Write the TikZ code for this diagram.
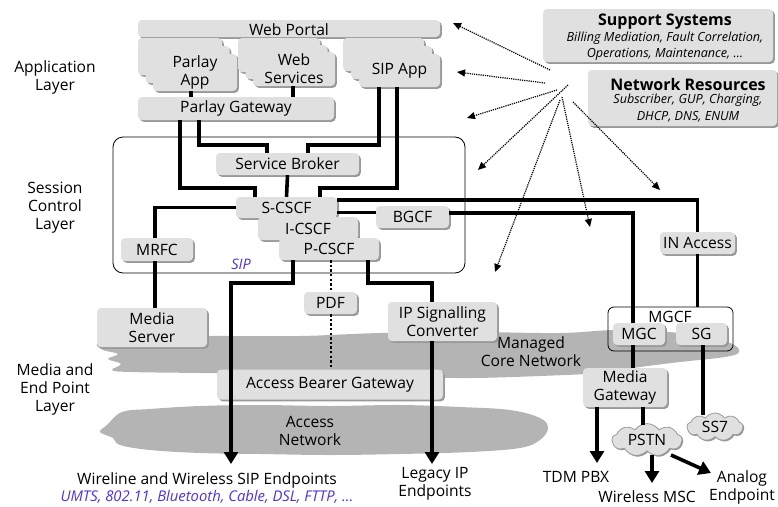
\documentclass[tikz,border=0pt]{standalone}
\usepackage{fontspec}
\setmainfont{Open Sans}
\usetikzlibrary{arrows.meta,shadows,shapes.symbols,calc}
\definecolor{boxfill}{HTML}{E0E0E0}
\definecolor{shadowc}{HTML}{999999}
\definecolor{cloudc}{HTML}{B4B4B4}
\definecolor{sipblue}{HTML}{5030E0}
\newcommand\lblfont{\fontsize{15.6}{18}\selectfont}
\newcommand\smallitfont{\fontsize{12.6}{16.5}\selectfont\itshape}
\begin{document}
\begin{tikzpicture}[x=1pt,y=-1pt,
  box/.style={rounded corners=4pt, fill=boxfill,
    drop shadow={shadow xshift=1.8pt, shadow yshift=-1.8pt, fill=shadowc, opacity=1},
    inner sep=0pt, align=center, font=\lblfont},
  lbl/.style={align=center, font=\lblfont, inner sep=0pt},
  conn/.style={line width=3.6pt},
  conna/.style={conn, -{Triangle[length=12pt,width=14pt]}},
  dotconn/.style={line width=2.6pt, dash pattern=on 2.4pt off 2.2pt},
  dotarr/.style={line width=1.2pt, dash pattern=on 1.2pt off 1pt, black, -{Triangle[length=8pt,width=7pt]}},
  smallcloud/.style={cloud, cloud puffs=9, cloud puff arc=110, aspect=2.2, fill=boxfill, draw=black!40, line width=0.8pt, inner sep=0pt, font=\lblfont,
    drop shadow={shadow xshift=1.2pt, shadow yshift=-1.2pt, fill=shadowc, opacity=1}}
]
\useasboundingbox (0,0) rectangle (778,506);

% ---------- clouds ----------
\fill[cloudc] plot[smooth cycle, tension=0.6] coordinates {
 (97,344) (112,338) (160,337) (210,336) (300,336) (380,333) (470,332) (560,333) (620,330)
 (690,334) (730,343) (739,352) (725,357) (680,362) (640,367) (600,373) (540,376) (470,378)
 (400,377) (330,376) (260,374) (200,373) (130,372) (112,370) (121,364) (108,359) (118,354) (103,350)};
\fill[cloudc] plot[smooth cycle, tension=0.6] coordinates {
 (107,425) (122,412) (150,409) (200,406) (260,405) (330,406) (400,405) (460,407) (510,410)
 (540,418) (548,428) (540,440) (520,448) (470,452) (400,454) (330,455) (260,454) (200,453)
 (150,450) (120,445) (113,438) (100,432)};
\node[lbl] (mcn) at (531,351.5) {Managed\\Core Network};
\node[lbl] (accn) at (310,431) {Access\\Network};

% ---------- left layer labels ----------
\node[lbl] (lapp) at (55,77) {Application\\Layer};
\node[lbl] (lses) at (55,208) {Session\\Control\\Layer};
\node[lbl] (lmed) at (55,389) {Media and\\End Point\\Layer};

% ---------- session box ----------
\node[draw, line width=0.8pt, rounded corners=10pt, minimum width=352, minimum height=136, inner sep=0pt] (sess) at (289,205) {};
\node[font=\fontsize{14.5}{15}\selectfont\itshape, text=sipblue, inner sep=0pt] (siplbl) at (241,264) {SIP};

% ---------- application layer ----------
\node[box, minimum width=302, minimum height=17] (wp) at (289,28.5) {};
\node[lbl] (wpt) at (289,30) {Web Portal};

\node[box, minimum width=84, minimum height=37] (papp3) at (180,56.5) {};
\node[box, minimum width=84, minimum height=37] (papp2) at (187.5,64.5) {};
\node[box, minimum width=84, minimum height=37] (papp) at (195,72.5) {Parlay\\App};

\node[box, minimum width=82, minimum height=34] (ws3) at (279,55) {};
\node[box, minimum width=82, minimum height=34] (ws2) at (286.5,62) {};
\node[box, minimum width=82, minimum height=34] (ws) at (294,69) {Web\\Services};

\node[box, minimum width=81, minimum height=33] (sa3) at (383.5,54.5) {};
\node[box, minimum width=81, minimum height=33] (sa2) at (391.5,62.5) {};
\node[box, minimum width=81, minimum height=33] (sa) at (399.5,70.5) {SIP App};

\node[box, minimum width=196, minimum height=23] (pgw) at (236,108.5) {Parlay Gateway};

% ---------- session layer ----------
\node[box, minimum width=143, minimum height=22] (sb) at (287.5,164) {Service Broker};
\node[box, minimum width=101, minimum height=21] (scscf) at (286.5,207.5) {S-CSCF};
\node[box, minimum width=100, minimum height=23] (icscf) at (308,228.5) {I-CSCF};
\node[box, minimum width=100, minimum height=22] (pcscf) at (329,249) {P-CSCF};
\node[box, minimum width=73, minimum height=22] (bgcf) at (412.5,217) {BGCF};
\node[box, minimum width=72, minimum height=23] (mrfc) at (157,249.5) {MRFC};
\node[box, minimum width=75, minimum height=22] (inacc) at (697.5,243) {IN Access};

% ---------- media layer ----------
\node[draw, line width=0.8pt, rounded corners=6pt, minimum width=125, minimum height=44, inner sep=0pt] (mgcf) at (670.5,329) {};
\node[lbl] (mgcft) at (670,317) {MGCF};
\node[box, minimum width=52, minimum height=22] (mgc) at (639,334) {MGC};
\node[box, minimum width=51, minimum height=22] (sg) at (701.5,334) {SG};
\node[box, minimum width=84, minimum height=39] (mgw) at (625,387.5) {Media\\Gateway};
\node[box, minimum width=53, minimum height=22] (pdf) at (330.5,303) {PDF};
\node[box, minimum width=109, minimum height=39] (ipsc) at (442.5,321.5) {IP Signalling\\Converter};
\node[box, minimum width=110, minimum height=39] (ms) at (152,327.5) {Media\\Server};
\node[box, minimum width=226, minimum height=30] (abg) at (330,384.5) {Access Bearer Gateway};

\node[smallcloud, minimum width=70, minimum height=32] (pstn) at (647,440) {PSTN};
\node[smallcloud, minimum width=56, minimum height=28] (ss7) at (715,427) {SS7};

% ---------- support boxes ----------
\node[box, minimum width=230, minimum height=53] (sup) at (658,35.5) {};
\node[lbl, font=\fontsize{16}{18}\selectfont\bfseries] (supt) at (665,22) {Support Systems};
\node[lbl, font=\smallitfont] (sups) at (665,46) {Billing Mediation, Fault Correlation,\\Operations, Maintenance, \dots};
\node[box, minimum width=189, minimum height=56] (nr) at (682.5,98) {};
\node[lbl, font=\fontsize{16}{18}\selectfont\bfseries] (nrt) at (688,84) {Network Resources};
\node[lbl, font=\smallitfont] (nrs) at (688,108) {Subscriber, GUP, Charging,\\DHCP, DNS, ENUM};

% ---------- bottom labels ----------
\node[lbl] (sipep) at (207,480) {Wireline and Wireless SIP Endpoints};
\node[lbl, font=\fontsize{14.8}{15}\selectfont\itshape, text=sipblue] (sipept) at (207,497) {UMTS, 802.11, Bluetooth, Cable, DSL, FTTP, \dots};
\node[lbl] (legacy) at (435,484) {Legacy IP\\Endpoints};
\node[lbl] (tdm) at (576,477) {TDM PBX};
\node[lbl] (wmsc) at (647,497) {Wireless MSC};
\node[lbl] (analog) at (742,487) {Analog\\Endpoint};

% ---------- connectors ----------
\draw[conn] (191,0 |- papp.south) -- (191,0 |- pgw.north);
\draw[conn] (293,0 |- ws.south) -- (293,0 |- pgw.north);
\draw[conn] (180,0 |- pgw.south) -- (180,188) -- (255,188) -- (255,0 |- scscf.north);
\draw[conn] (199,0 |- pgw.south) -- (199,145) -- (267,145) -- (267,0 |- sb.north);
\draw[conn] (379,0 |- sa.south) -- (379,145) -- (308,145) -- (308,0 |- sb.north);
\draw[conn] (397,0 |- sa.south) -- (397,188) -- (320,188) -- (320,0 |- scscf.north);
\draw[conn] (sb.south) -- (scscf.north);
\draw[conn] (scscf.west) -| (155,0 |- mrfc.north);
\draw[conn] (155,0 |- mrfc.south) -- (155,0 |- ms.north);
\draw[conn] (scscf.east |- 0,200) -| (inacc.north);
\draw[conn] (inacc.south) -- (inacc.south |- mgcf.north);
\draw[conn] (scscf.east |- 0,212.5) -- (bgcf.west |- 0,212.5);
\draw[conn] (bgcf.east |- 0,213) -| (633,0 |- mgc.north);
\draw[conn] (633,0 |- mgc.south) -- (633,0 |- mgw.north);
\draw[conn] (703,0 |- sg.south) -- (703,415);
\draw[conn] (643,0 |- mgw.south) -- (643,425);
\coordinate (tdmtip) at (597,463);
\coordinate (wmsctip) at (652,483);
\coordinate (analogtip) at (711,473);
\coordinate (sipeptip) at (231,464);
\coordinate (legacytip) at (432,464);
\draw[conna] (597,0 |- mgw.south) -- (tdmtip);
\draw[conna] (652,455) -- (wmsctip);
\draw[conna] (671,455) -- (analogtip);
\draw[conna] (293,0 |- pcscf.south) -- (293,283) -- (231,283) -- (sipeptip);
\draw[conn] (368,0 |- pcscf.south) -- (368,283) -- (432,283) -- (432,0 |- ipsc.north);
\draw[conna] (432,0 |- ipsc.south) -- (legacytip);
\draw[dotconn] (331,0 |- pcscf.south) -- (331,0 |- pdf.north);
\draw[dotconn] (331,0 |- pdf.south) -- (331,0 |- abg.north);

% ---------- dotted management arrows ----------
\coordinate (s1) at (550,70);  \coordinate (t1) at (453,23);
\coordinate (s2) at (545,83);  \coordinate (t2) at (457,72);
\coordinate (s3) at (557,90);  \coordinate (t3) at (467,118);
\coordinate (s4) at (568,85);  \coordinate (t4) at (478,170);
\coordinate (s5) at (560,100); \coordinate (t5) at (495,272);
\coordinate (s6) at (562,97);  \coordinate (t6) at (590,227);
\coordinate (s7) at (573,102); \coordinate (t7) at (660,190);
\foreach \i in {1,...,7} { \draw[dotarr] (s\i) -- (t\i); }
\end{tikzpicture}
\end{document}
